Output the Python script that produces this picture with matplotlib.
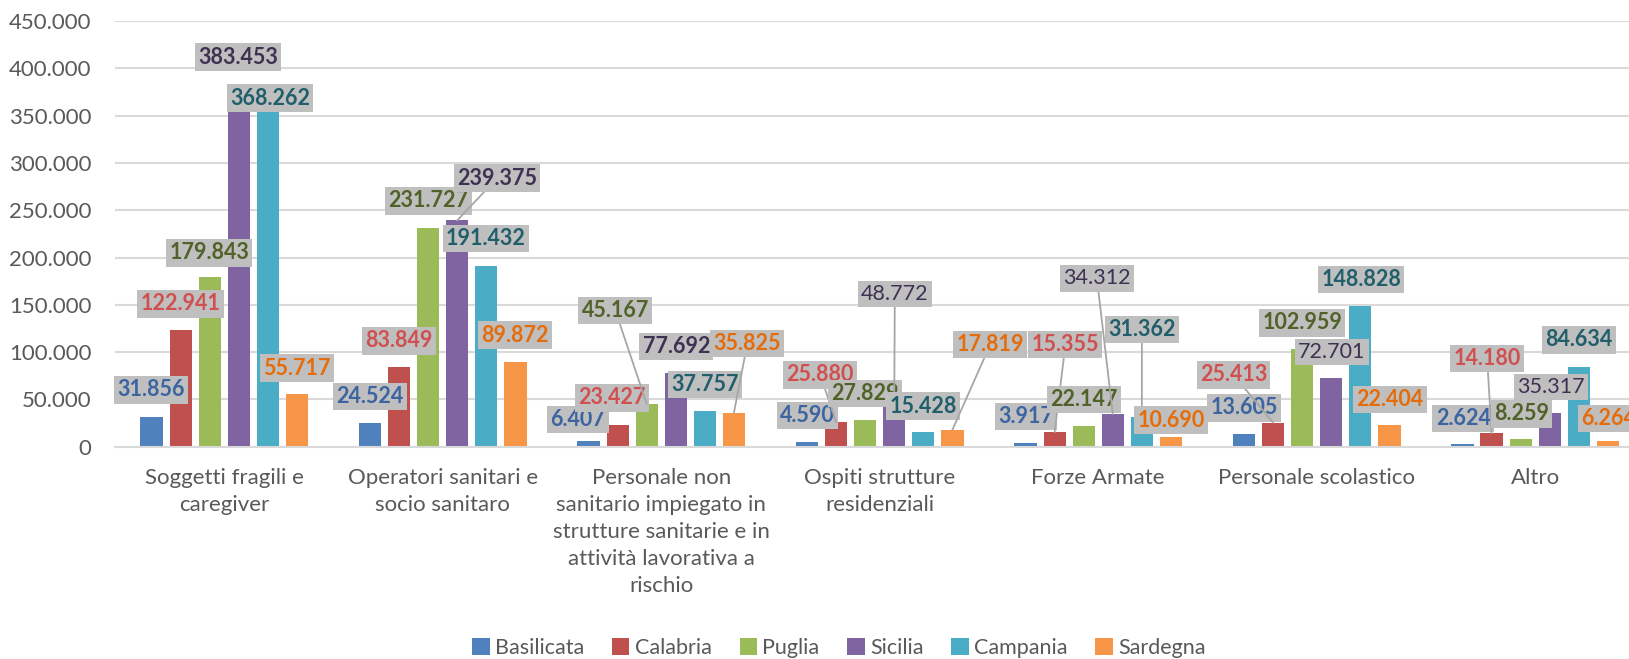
import matplotlib.pyplot as plt
import numpy as np

plt.rcParams['font.family'] = ['Lato', 'DejaVu Sans']

categories = ['Soggetti fragili e\ncaregiver',
              'Operatori sanitari e\nsocio sanitaro',
              'Personale non\nsanitario impiegato in\nstrutture sanitarie e in\nattività lavorativa a\nrischio',
              'Ospiti strutture\nresidenziali',
              'Forze Armate',
              'Personale scolastico',
              'Altro']
regions = ['Basilicata', 'Calabria', 'Puglia', 'Sicilia', 'Campania', 'Sardegna']

basilicata = [31856, 24524, 6407, 4590, 3917, 13605, 2624]
calabria = [122941, 83849, 23427, 25880, 15355, 25413, 14180]
puglia = [179843, 231727, 45167, 27829, 22147, 102959, 8259]
sicilia = [383453, 239375, 77692, 48772, 34312, 72701, 35317]
campania = [368262, 191432, 37757, 15428, 31362, 148828, 84634]
sardegna = [55717, 89872, 35825, 17819, 10690, 22404, 6264]
series = [basilicata, calabria, puglia, sicilia, campania, sardegna]

bar_colors = ['#4F81BD', '#C0504D', '#9BBB59', '#8064A2', '#4BACC6', '#F79646']
text_colors = ['#3B64A0', '#D0504F', '#4F6228', '#3F3151', '#215E6B', '#E46C0A']

# where each data label sits: (x offset from category centre, height in data units)
label_pos = [
    [(-0.335, 60000), (-0.332, 53000), (-0.381, 29000), (-0.332, 33000), (-0.33, 32000), (-0.331, 41000), (-0.33, 30000)],
    [(-0.201, 151000), (-0.199, 112000), (-0.225, 51500), (-0.272, 76000), (-0.15, 108000), (-0.381, 76000), (-0.22, 93000)],
    [(-0.069, 205000), (-0.066, 260000), (-0.21, 144000), (-0.067, 56000), (-0.064, 50000), (-0.066, 131000), (-0.063, 34600)],
    [(0.064, 412000), (0.249, 284000), (0.069, 106000), (0.069, 161400), (-0.006, 178000), (0.07, 100000), (0.071, 63000)],
    [(0.209, 368600), (0.197, 220000), (0.2, 65500), (0.198, 43000), (0.2, 124000), (0.204, 177000), (0.2, 113000)],
    [(0.333, 83000), (0.332, 118000), (0.394, 109000), (0.506, 108000), (0.334, 28000), (0.336, 50000), (0.335, 30000)],
]
# (series, category) pairs
leaders = {(3, 1), (2, 2), (5, 2), (1, 3), (3, 3), (5, 3), (1, 4), (3, 4), (4, 4), (1, 5), (1, 6)}
normal_weight = {(3, 3), (3, 4), (3, 5), (3, 6)}

fig = plt.figure(figsize=(16.29, 6.59), dpi=100)
# plot area runs a bit past the right edge, like the cropped original
ax = fig.add_axes([0.0706, 0.3222, 0.9389, 0.6456])

x = np.arange(len(categories))
step = 0.133
width = 0.102
for i, vals in enumerate(series):
    xs = x + (i - 2.5) * step
    ax.bar(xs, vals, width, color=bar_colors[i], label=regions[i], zorder=2)
    for j, v in enumerate(vals):
        dx, ly = label_pos[i][j]
        txt = f'{v:,}'.replace(',', '.')
        arrow = None
        if (i, j) in leaders:
            arrow = dict(arrowstyle='-', color='#A6A6A6', lw=1.3, shrinkA=0, shrinkB=0)
        ax.annotate(txt, xy=(xs[j], v), xytext=(x[j] + dx, ly),
                    ha='center', va='center', fontsize=15.5, color=text_colors[i],
                    fontweight='normal' if (i, j) in normal_weight else 'bold',
                    bbox=dict(boxstyle='square,pad=0.15', fc='#BFBFBF', ec='none'),
                    arrowprops=arrow, zorder=4, annotation_clip=False)

ax.set_xlim(-0.5, len(categories) - 0.5)
ax.set_ylim(0, 450000)
yt = np.arange(0, 450001, 50000)
ax.set_yticks(yt)
ax.set_yticklabels([f'{int(t):,}'.replace(',', '.') for t in yt])
ax.yaxis.grid(True, color='#D9D9D9', lw=1.5, zorder=0)
ax.set_axisbelow(True)
for s in ['top', 'right', 'left']:
    ax.spines[s].set_visible(False)
ax.spines['bottom'].set_color('#D9D9D9')
ax.spines['bottom'].set_linewidth(1.5)
ax.tick_params(axis='both', length=0, labelsize=16, colors='#595959')
ax.tick_params(axis='y', pad=17)
ax.tick_params(axis='x', pad=15)
ax.set_xticks(x)
ax.set_xticklabels(categories, linespacing=1.45, va='top', fontsize=16)

fig.legend(loc='center', bbox_to_anchor=(0.515, 0.017), ncol=6, frameon=False,
           fontsize=15.5, labelcolor='#595959', handlelength=0.8, handleheight=0.8,
           handletextpad=0.25, columnspacing=1.3)

plt.savefig('out.png', dpi=100)
